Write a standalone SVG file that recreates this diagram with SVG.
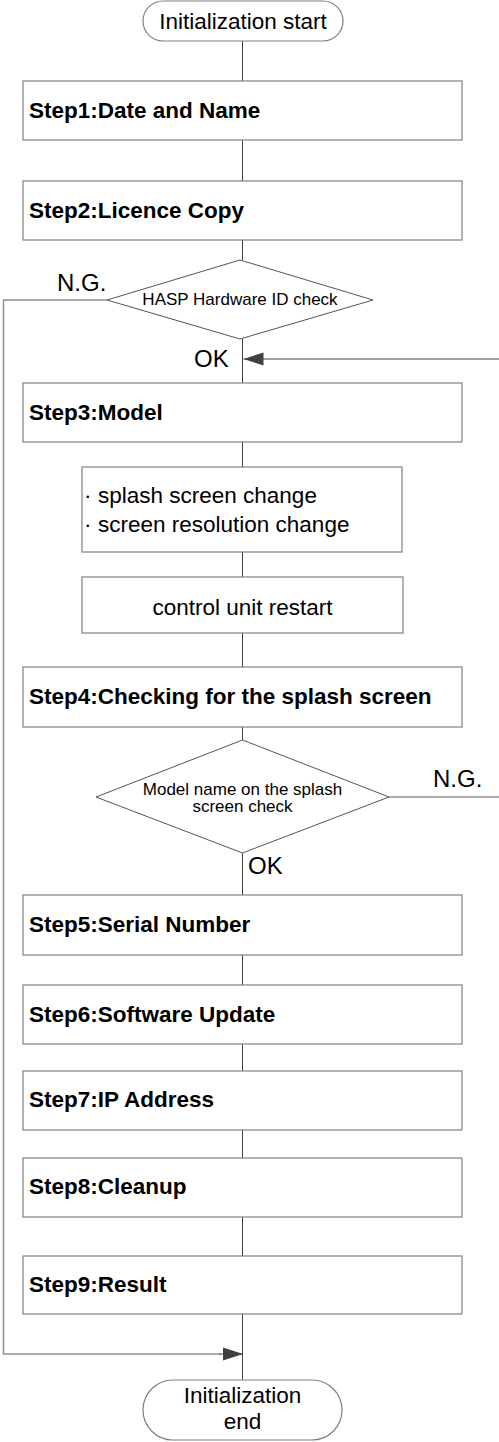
<svg xmlns="http://www.w3.org/2000/svg" width="499" height="1442" viewBox="0 0 499 1442">
<style>
.box{fill:#fff;stroke:#808080;stroke-width:1.2}
.dia{fill:#fff;stroke:#555;stroke-width:1}
.ln{fill:none;stroke:#404040;stroke-width:1}
.gl{fill:none;stroke:#909090;stroke-width:1.5}
.b{font-family:"Liberation Sans",Arial,sans-serif;font-weight:bold;font-size:22.5px;fill:#000}
.r{font-family:"Liberation Sans",Arial,sans-serif;font-size:22.5px;fill:#000}
.s{font-family:"Liberation Sans",Arial,sans-serif;font-size:17px;fill:#000}
.l{font-family:"Liberation Sans",Arial,sans-serif;font-size:24px;fill:#000}
</style>
<defs>
<marker id="ah" markerUnits="userSpaceOnUse" markerWidth="22" markerHeight="14" refX="21" refY="7" orient="auto">
<path d="M1,0.5 L21,7 L1,13.5 Z" fill="#404040"/>
</marker>
</defs>
<g id="connectors">
<path class="ln" d="M242.5,41 V81 M242.5,140 V181 M242.5,240 V260 M242.5,339 V383 M242.5,442 V467 M242.5,552 V577 M242.5,633 V667 M242.5,727 V740 M242.5,853 V895 M242.5,955 V985 M242.5,1044 V1071 M242.5,1130 V1158 M242.5,1217 V1256 M242.5,1314 V1380"/>
<path class="gl" d="M107,300 H3.5 V1354 H220"/>
<path class="ln" d="M219,1354 H243" marker-end="url(#ah)"/>
<path class="ln" d="M499,359 H243.5" marker-end="url(#ah)"/>
<path class="gl" d="M389,797 H499"/>
<text class="l" x="57" y="291">N.G.</text>
<text class="l" x="194" y="367">OK</text>
<text class="l" x="433" y="787">N.G.</text>
<text class="l" x="248" y="874">OK</text>
</g>
<g id="start">
<rect class="box" x="143" y="1" width="200" height="40" rx="20" ry="20"/>
<text class="r" x="243" y="29" text-anchor="middle">Initialization start</text>
</g>
<g id="step1">
<rect class="box" x="23" y="81" width="439" height="59"/>
<text class="b" x="29" y="117.5">Step1:Date and Name</text>
</g>
<g id="step2">
<rect class="box" x="23" y="181" width="439" height="59"/>
<text class="b" x="29" y="217.5">Step2:Licence Copy</text>
</g>
<g id="hasp-check">
<polygon class="dia" points="240,260 373,300 240,339 107,300"/>
<text class="s" x="240" y="305" text-anchor="middle">HASP Hardware ID check</text>
</g>
<g id="step3">
<rect class="box" x="23" y="383" width="439" height="59"/>
<text class="b" x="29" y="419.5">Step3:Model</text>
</g>
<g id="screen-change">
<rect class="box" x="82" y="467" width="320" height="85"/>
<text class="r" x="84" y="503">·<tspan x="98">splash screen change</tspan></text>
<text class="r" x="84" y="532">·<tspan x="98">screen resolution change</tspan></text>
</g>
<g id="restart">
<rect class="box" x="82" y="577" width="321" height="56"/>
<text class="r" x="242.5" y="615" text-anchor="middle">control unit restart</text>
</g>
<g id="step4">
<rect class="box" x="23" y="667" width="439" height="60"/>
<text class="b" x="29" y="703.5">Step4:Checking for the splash screen</text>
</g>
<g id="model-check">
<polygon class="dia" points="242.5,740 389,797 242.5,853 96,797"/>
<text class="s" x="242.5" y="795" text-anchor="middle">Model name on the splash</text>
<text class="s" x="242.5" y="812" text-anchor="middle">screen check</text>
</g>
<g id="step5">
<rect class="box" x="23" y="895" width="439" height="60"/>
<text class="b" x="29" y="932">Step5:Serial Number</text>
</g>
<g id="step6">
<rect class="box" x="23" y="985" width="439" height="59"/>
<text class="b" x="29" y="1021.5">Step6:Software Update</text>
</g>
<g id="step7">
<rect class="box" x="23" y="1071" width="439" height="59"/>
<text class="b" x="29" y="1107">Step7:IP Address</text>
</g>
<g id="step8">
<rect class="box" x="23" y="1158" width="439" height="59"/>
<text class="b" x="29" y="1194">Step8:Cleanup</text>
</g>
<g id="step9">
<rect class="box" x="23" y="1256" width="439" height="58"/>
<text class="b" x="29" y="1292">Step9:Result</text>
</g>
<g id="end">
<rect class="box" x="143" y="1380" width="199" height="60" rx="30" ry="30"/>
<text class="r" x="242.5" y="1403" text-anchor="middle">Initialization</text>
<text class="r" x="242.5" y="1429" text-anchor="middle">end</text>
</g>
</svg>
